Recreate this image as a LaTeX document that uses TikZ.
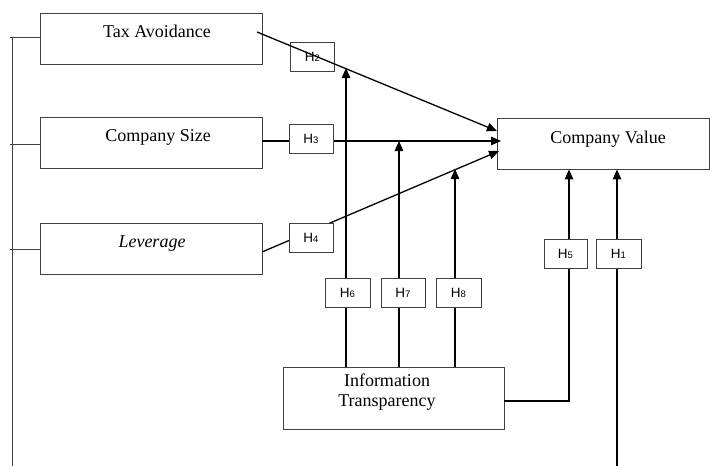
\documentclass[tikz,border=0pt]{standalone}
\usepackage{fontspec}
\setmainfont{Liberation Serif}
\newfontfamily\hfont{Liberation Sans}
\usetikzlibrary{arrows.meta}
\definecolor{boxgray}{HTML}{404040}
\tikzset{
  bigbox/.style={draw=boxgray, line width=0.9pt, rectangle, inner sep=0pt, minimum width=222pt, minimum height=51pt},
  hbox/.style={draw=boxgray, line width=0.9pt, rectangle, inner sep=0pt, minimum width=44pt, minimum height=29pt, font=\hfont\fontsize{13.5}{15}\selectfont},
  lbl/.style={anchor=base, inner sep=0pt, font=\fontsize{18}{21}\selectfont},
  conn/.style={line width=1.3pt, draw=black},
  arr/.style={conn, -{Triangle[length=10pt,width=8.5pt]}},
  brk/.style={line width=0.9pt, draw=boxgray}
}
\newcommand{\hlab}[1]{H{\fontsize{9.5}{10}\selectfont #1}}
\begin{document}
\begin{tikzpicture}[x=1pt,y=-1pt]
\useasboundingbox (0,0) rectangle (710,466);
% main boxes
\node[bigbox] (tax) at (151,38.5) {};
\node[lbl] (taxt) at (157,37) {Tax Avoidance};
\node[bigbox] (size) at (151,142.5) {};
\node[lbl] (sizet) at (158,141) {Company Size};
\node[bigbox] (lev) at (151,248.5) {};
\node[lbl] (levt) at (152,247) {\itshape Leverage};
\node[bigbox, minimum width=212pt] (cv) at (603,143.5) {};
\node[lbl] (cvt) at (608,143) {Company Value};
\node[bigbox, minimum width=221pt, minimum height=62pt] (it) at (393.5,398) {};
\node[lbl, align=center] (itt) at (387,406) {Information\\[-1pt]Transparency};
% left bracket
\coordinate (bt) at (12,37);
\coordinate (bb) at (12,466);
\draw[brk] (bt) -- (bb);
\draw[brk] (10,37) -- (tax.west |- 0,37);
\draw[brk] (10,144) -- (size.west |- 0,144);
\draw[brk] (10,249) -- (lev.west |- 0,249);
% coordinates for connectors
\coordinate (a2) at (257,32);
\coordinate (b2) at (497,131);
\coordinate (a3) at (262,141);
\coordinate (b3) at (501,141);
\coordinate (a4) at (262,252);
\coordinate (b4) at (499,151);
\coordinate (t6) at (346,68);
\coordinate (t7) at (399,141);
\coordinate (t8) at (455,169);
\coordinate (c5) at (569,401);
\coordinate (b1) at (617,466);
% hypothesis box H2 (drawn under the line)
\node[hbox] (h2) at (312.5,56.5) {\raisebox{-2.5pt}{\hlab{2}}\hspace{21pt}};
% connectors
\draw[arr] (a2) -- (b2);
\draw[arr] (a3) -- (b3);
\draw[arr] (a4) -- (b4);
\draw[arr] (it.north -| t6) -- (t6);
\draw[arr] (it.north -| t7) -- (t7);
\draw[arr] (it.north -| t8) -- (t8);
\draw[arr] (it.east |- c5) -- (c5) -- (cv.south -| c5);
\draw[arr] (b1) -- (cv.south -| b1);
% hypothesis boxes
\node[hbox, fill=white] (h3) at (311,138.5) {\hlab{3}};
\node[hbox, fill=white] (h4) at (311,237.5) {\hlab{4}};
\node[hbox, fill=white, minimum width=45pt] (h6) at (347.5,292.5) {\hlab{6}};
\node[hbox, fill=white] (h7) at (403,292.5) {\hlab{7}};
\node[hbox, fill=white, minimum width=45pt] (h8) at (458.5,292.5) {\hlab{8}};
\node[hbox, fill=white, minimum width=43pt] (h5) at (565.5,253.5) {\hlab{5}};
\node[hbox, fill=white, minimum width=45pt] (h1) at (618.5,253.5) {\hlab{1}};
\end{tikzpicture}
\end{document}
